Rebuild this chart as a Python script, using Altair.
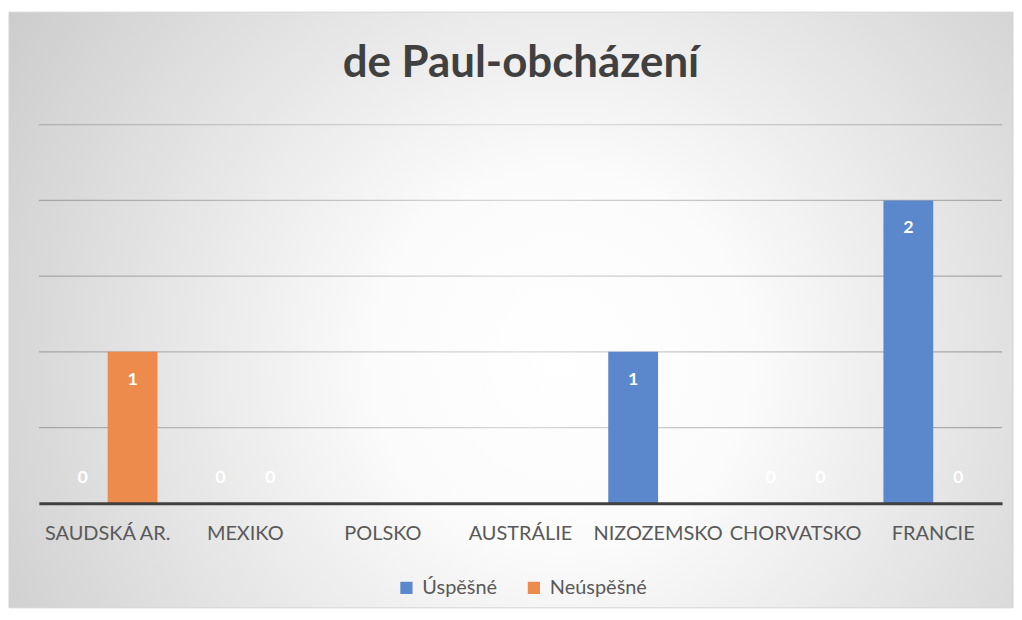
import altair as alt
import pandas as pd

categories = ["SAUDSKÁ AR.", "MEXIKO", "POLSKO", "AUSTRÁLIE", "NIZOZEMSKO", "CHORVATSKO", "FRANCIE"]
uspesne = [0, 0, None, None, 1, 0, 2]
neuspesne = [1, 0, None, None, None, 0, 0]
series = ["Úspěšné", "Neúspěšné"]
colors = ["#5b87cd", "#ed8b4c"]
y_ticks = [0.5, 1, 1.5, 2, 2.5]
title_text = "de Paul-obcházení"

rows = []
for c, u, n in zip(categories, uspesne, neuspesne):
    rows.append({"zeme": c, "serie": series[0], "hodnota": u})
    rows.append({"zeme": c, "serie": series[1], "hodnota": n})
df = pd.DataFrame(rows)
grid_df = pd.DataFrame({"hodnota": y_ticks})

W, H = 967, 380
FONT = "Lato"

x_enc = alt.X(
    "zeme:N", sort=categories,
    scale=alt.Scale(paddingInner=0.276, paddingOuter=0.138),
    axis=alt.Axis(title=None, labelAngle=0, labelFont=FONT, labelFontSize=20,
                  labelColor="#595959", labelPadding=20, ticks=False,
                  domainColor="#404040", domainWidth=3, grid=False,
                  labelOverlap=False, labelLimit=0, zindex=2),
)
y_scale = alt.Scale(domain=[0, 2.5], nice=False)
y_enc = alt.Y("hodnota:Q", scale=y_scale, axis=None)
xoff = alt.XOffset("serie:N", sort=series, scale=alt.Scale(domain=series, paddingInner=0, paddingOuter=0))

gradient = {
    "gradient": "radial",
    "x1": 0.55, "y1": 0.55, "r1": 0,
    "x2": 0.55, "y2": 0.55, "r2": 0.75,
    "stops": [
        {"offset": 0, "color": "#ffffff"},
        {"offset": 0.25, "color": "#fbfbfb"},
        {"offset": 1, "color": "#c2c2c2"},
    ],
}
grid_gradient = {
    "gradient": "linear",
    "x1": 0, "y1": 0, "x2": 1, "y2": 0,
    "stops": [
        {"offset": 0, "color": "#a4a4a4"},
        {"offset": 0.5, "color": "#d8d8d8"},
        {"offset": 1, "color": "#a4a4a4"},
    ],
}

one = alt.Data(values=[{}])
bg = alt.Chart(one).mark_rect(fill=gradient, stroke="#d4d4d4", strokeWidth=1).encode(
    x=alt.value(-30), x2=alt.value(W + 11), y=alt.value(-113), y2=alt.value(H + 105)
)
title = alt.Chart(one).mark_text(
    font=FONT, fontSize=44, fontWeight="bold", color="#404040", baseline="middle", align="center"
).encode(x=alt.value(484), y=alt.value(-61), text=alt.value(title_text))

grid = alt.Chart(grid_df).mark_rect(fill=grid_gradient, height=1.2).encode(
    y=y_enc, x=alt.value(0), x2=alt.value(W)
)

bars = alt.Chart(df).mark_bar().encode(
    x=x_enc, y=y_enc, xOffset=xoff,
    color=alt.Color("serie:N", sort=series,
                    scale=alt.Scale(domain=series, range=colors),
                    legend=alt.Legend(title=None, orient="none", legendX=359, legendY=455,
                                      direction="horizontal", columns=2,
                                      symbolType="square", symbolSize=150, symbolStrokeWidth=0,
                                      labelFont=FONT, labelFontSize=20, labelColor="#595959",
                                      labelOffset=6, columnPadding=26)),
)

lab_pos = alt.Chart(df).transform_filter(alt.datum.hodnota > 0).mark_text(
    font=FONT, fontSize=18, fontWeight="bold", color="white", baseline="middle", dy=28
).encode(x=x_enc, y=y_enc, xOffset=xoff, text=alt.Text("hodnota:Q", format="d"))

lab_zero = alt.Chart(df).transform_filter(alt.datum.hodnota == 0).mark_text(
    font=FONT, fontSize=18, fontWeight="bold", color="white", baseline="middle", dy=-25
).encode(x=x_enc, y=y_enc, xOffset=xoff, text=alt.Text("hodnota:Q", format="d"))

chart = alt.layer(bg, title, grid, bars, lab_pos, lab_zero).properties(
    width=W, height=H,
    padding={"left": 0, "top": 2, "right": 0, "bottom": 0},
).configure_view(stroke=None).configure(background="white")

chart.save("out.html", embed_options={"renderer": "svg", "actions": False})
